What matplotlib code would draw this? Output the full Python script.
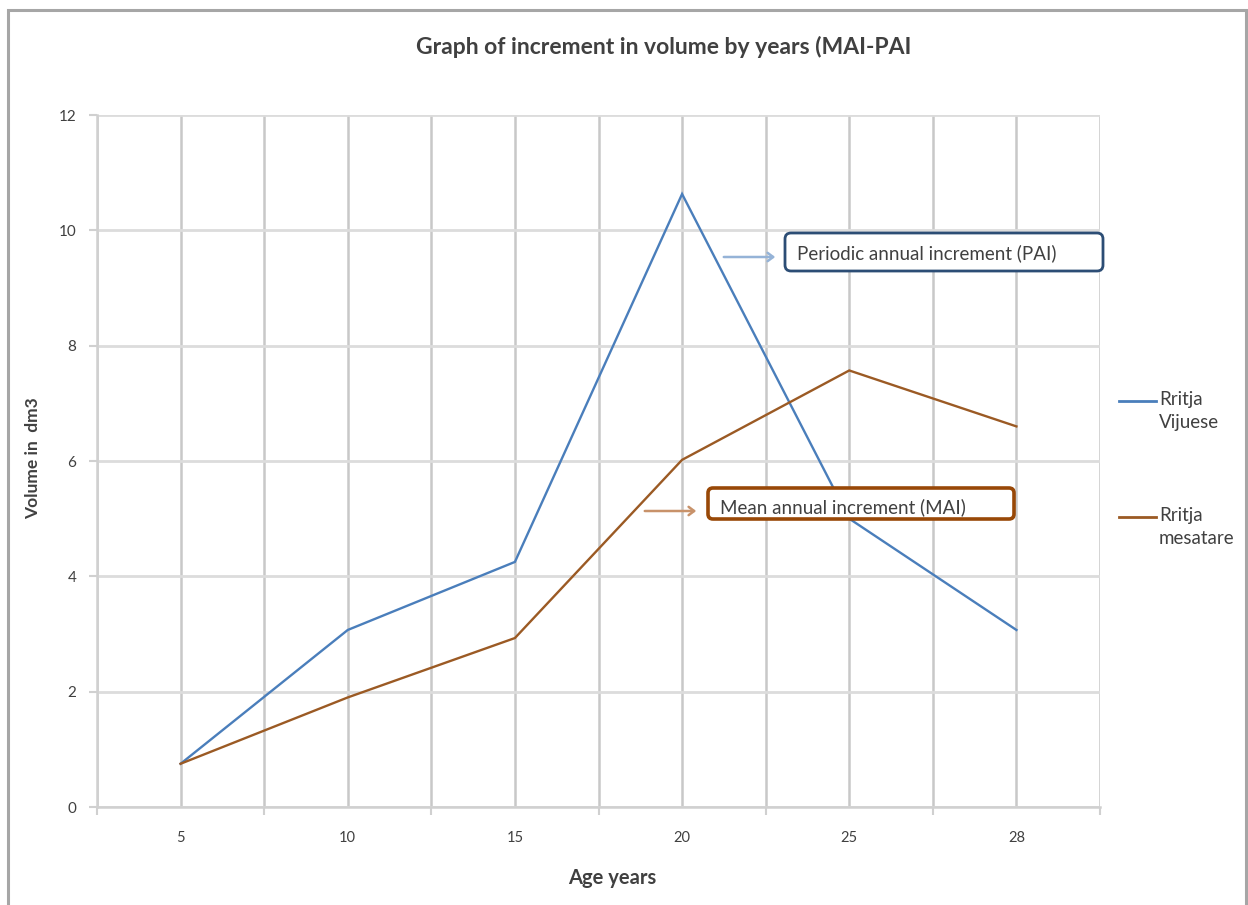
import matplotlib
matplotlib.use("Agg")
import matplotlib.pyplot as plt
from matplotlib.lines import Line2D
from matplotlib.patches import FancyBboxPatch, Rectangle, FancyArrowPatch

plt.rcParams['font.family'] = ['Lato', 'DejaVu Sans']

# Age classes (categorical axis) and increments in dm3
ages = ['5', '10', '15', '20', '25', '28']
pai = [0.75, 3.07, 4.25, 10.63, 5.0, 3.07]   # Rritja vijuese
mai = [0.75, 1.90, 2.93, 6.02, 7.57, 6.60]   # Rritja mesatare
yticks = [0, 2, 4, 6, 8, 10, 12]

BLUE = '#4a7ebb'
BROWN = '#9b5a24'
TXT = '#404040'
W, H = 1248, 905


def px(x, y):
    """Convert pixel position (origin top-left) to inches for dpi_scale_trans."""
    return x / 100.0, (H - y) / 100.0


fig = plt.figure(figsize=(W / 100, H / 100), dpi=100)
ax = fig.add_axes([97 / W, 1 - 807 / H, (1100 - 97) / W, (807 - 115) / H])
tr = fig.dpi_scale_trans

xs = list(range(len(ages)))
ax.plot(xs, pai, color=BLUE, lw=1.7, solid_joinstyle='miter', zorder=3)
ax.plot(xs, mai, color=BROWN, lw=1.7, solid_joinstyle='miter', zorder=3)

ax.set_xlim(-0.5, len(ages) - 0.5)
ax.set_ylim(0, 12)
ax.set_xticks(xs)
ax.set_xticklabels(ages)
ax.set_xticks([i - 0.5 for i in range(len(ages) + 1)], minor=True)
ax.set_yticks(yticks)

ax.tick_params(axis='x', which='major', length=0, pad=17, labelsize=10.5, labelcolor=TXT)
ax.tick_params(axis='x', which='minor', length=6, width=1.5, color='#d0d0d0')
ax.tick_params(axis='y', length=6, width=1.5, color='#d0d0d0', pad=9,
               labelsize=11, labelcolor=TXT)

# grid: horizontal at value ticks, vertical at categories and boundaries
ax.grid(axis='y', color='#dcdcdc', lw=2)
ax.grid(axis='x', which='both', color='#c8c8c8', lw=1.8)
ax.set_axisbelow(True)

for side in ['top', 'right']:
    ax.spines[side].set_visible(False)
for side in ['left', 'bottom']:
    ax.spines[side].set_color('#d0d0d0')
    ax.spines[side].set_linewidth(1.8)

# titles
fig.text(*px(664, 47), 'Graph of increment in volume by years (MAI-PAI', transform=tr,
         fontsize=16.5, fontweight='bold', color=TXT, ha='center', va='center')
fig.text(*px(612, 878), 'Age years', transform=tr, fontsize=14.5,
         fontweight='bold', color=TXT, ha='center', va='center')
fig.text(*px(33, 458), 'Volume in  dm3', transform=tr, fontsize=12.5, rotation=90,
         fontweight='bold', color=TXT, ha='center', va='center')

# outer chart frame
fig.add_artist(Rectangle(px(8, 940), (1246 - 8) / 100, (940 - 10) / 100,
                         transform=tr, fill=False, edgecolor='#a6a6a6', lw=2.2))

# callout boxes with arrows
fig.add_artist(FancyBboxPatch(px(785, 271), (1103 - 785) / 100, 0.38,
                              boxstyle='round,pad=0,rounding_size=0.06',
                              transform=tr, facecolor='white', edgecolor='#2c4d75', lw=2))
fig.text(*px(797, 253), 'Periodic annual increment (PAI)', transform=tr,
         fontsize=13.5, color=TXT, va='center', ha='left')
fig.add_artist(FancyArrowPatch(px(721, 257), px(778, 257), transform=tr,
                               arrowstyle='->,head_length=4,head_width=3',
                               color='#95b3d7', lw=1.8))

fig.add_artist(FancyBboxPatch(px(708, 519), (1014 - 708) / 100, 0.31,
                              boxstyle='round,pad=0,rounding_size=0.05',
                              transform=tr, facecolor='white', edgecolor='#984807', lw=2.6))
fig.text(*px(720, 507), 'Mean annual increment (MAI)', transform=tr,
         fontsize=13.5, color=TXT, va='center', ha='left')
fig.add_artist(FancyArrowPatch(px(642, 511), px(699, 511), transform=tr,
                               arrowstyle='->,head_length=4,head_width=3',
                               color='#c8926a', lw=1.8))

# legend on the right
for y, color, label in [(401, BLUE, 'Rritja\nVijuese'), (517, BROWN, 'Rritja\nmesatare')]:
    fig.add_artist(Line2D([1119 / 100, 1156 / 100], [(H - y) / 100] * 2,
                          transform=tr, color=color, lw=2))
    fig.text(*px(1159, y - 10), label, transform=tr, fontsize=13.5, color=TXT,
             va='top', ha='left', linespacing=1.4)

fig.savefig('out.png', dpi=100, facecolor='white')
